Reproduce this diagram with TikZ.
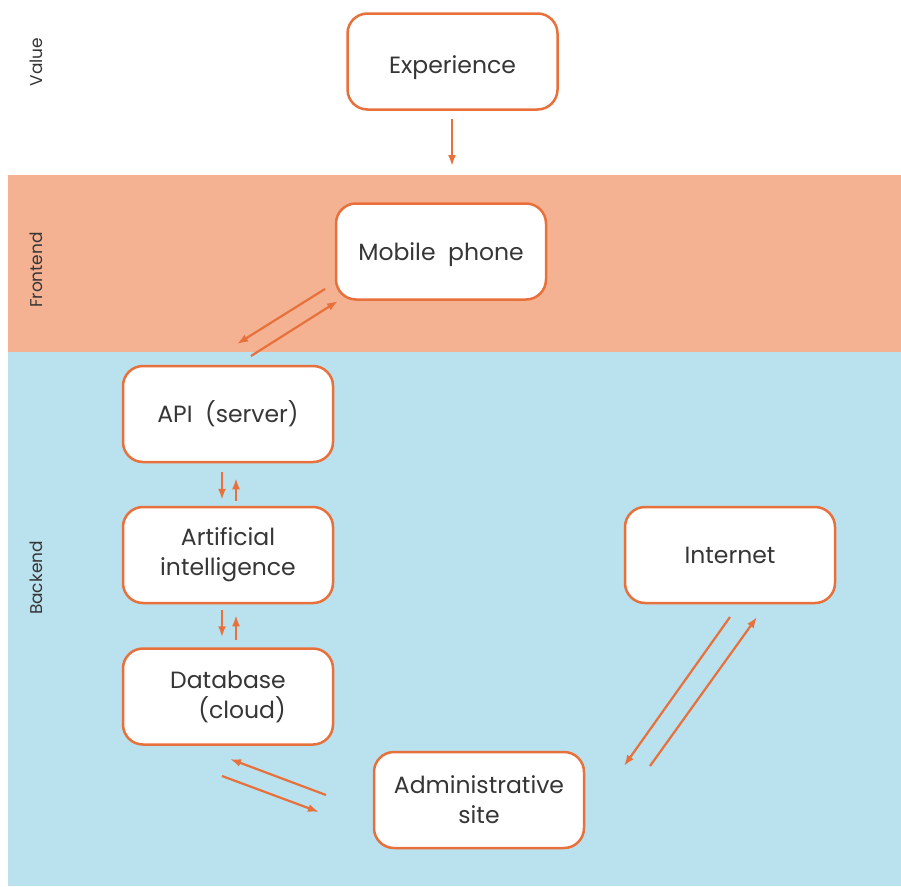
\documentclass[tikz,border=0pt]{standalone}
\usepackage{fontspec}
\setmainfont{Poppins}
\usetikzlibrary{arrows.meta,calc}
\definecolor{orng}{HTML}{E8703A}
\definecolor{front}{HTML}{F4B293}
\definecolor{back}{HTML}{B9E1EE}
\definecolor{txt}{HTML}{363636}
\begin{document}
\begin{tikzpicture}[x=1pt,y=-1pt,
  box/.style={draw=orng, line width=2.5pt, fill=white, rounded corners=20pt,
    minimum width=210pt, minimum height=96pt, align=center, text=txt,
    font=\fontsize{23.5}{30}\selectfont},
  arr/.style={draw=orng, line width=2.2pt, -{Latex[length=11pt,width=8pt]}},
  side/.style={rotate=90, text=txt, font=\fontsize{17}{20}\selectfont}]
\useasboundingbox (0,0) rectangle (901,886);
\fill[white] (0,0) rectangle (901,886);
\fill[front] (8,175) rectangle (901,352);
\fill[back] (8,352) rectangle (901,886);

\node[side] (lval) at (36,62) {Value};
\node[side] (lfront) at (36,270) {Frontend};
\node[side] (lback) at (36,578) {Backend};

\node[box, text height=29pt, text depth=5pt] (exp) at (452.5,61.5) {Experience};
\node[box, text height=24pt, text depth=6pt] (mob) at (441,251.5) {Mobile\ \ phone};
\node[box] (api) at (228,414) {API\ \ (server)};
\node[box] (ai) at (228,555) {Artificial\\intelligence};
\node[box, align=left] (db) at (228,696.5) {Database\\\hspace*{1.2em}(cloud)};
\node[box] (int) at (730,555) {Internet};
\node[box] (adm) at (479,800) {Administrative\\site};

\coordinate (expend) at (452,166);
\draw[arr, shorten <=8pt] (exp.south -| expend) -- (expend);

\draw[arr, shorten <=9pt, shorten >=6pt] ([xshift=-6pt]api.south) -- ([xshift=-6pt]ai.north);
\draw[arr, shorten <=5pt, shorten >=15pt] ([xshift=8pt]ai.north) -- ([xshift=8pt]api.south);
\draw[arr, shorten <=6pt, shorten >=10pt] ([xshift=-6pt]ai.south) -- ([xshift=-6pt]db.north);
\draw[arr, shorten <=7pt, shorten >=11pt] ([xshift=8pt]db.north) -- ([xshift=8pt]ai.south);

\coordinate (m1s) at (325,289); \coordinate (m1e) at (237,344);
\coordinate (m2s) at (251,356); \coordinate (m2e) at (338,301);
\draw[arr] (m1s) -- (m1e);
\draw[arr] (m2s) -- (m2e);

\coordinate (d1s) at (326,795); \coordinate (d1e) at (230,759);
\coordinate (d2s) at (222,776); \coordinate (d2e) at (319,812);
\draw[arr] (d1s) -- (d1e);
\draw[arr] (d2s) -- (d2e);

\coordinate (i1s) at (730,617); \coordinate (i1e) at (624,766);
\coordinate (i2s) at (650,766); \coordinate (i2e) at (757,617);
\draw[arr] (i1s) -- (i1e);
\draw[arr] (i2s) -- (i2e);
\end{tikzpicture}
\end{document}
